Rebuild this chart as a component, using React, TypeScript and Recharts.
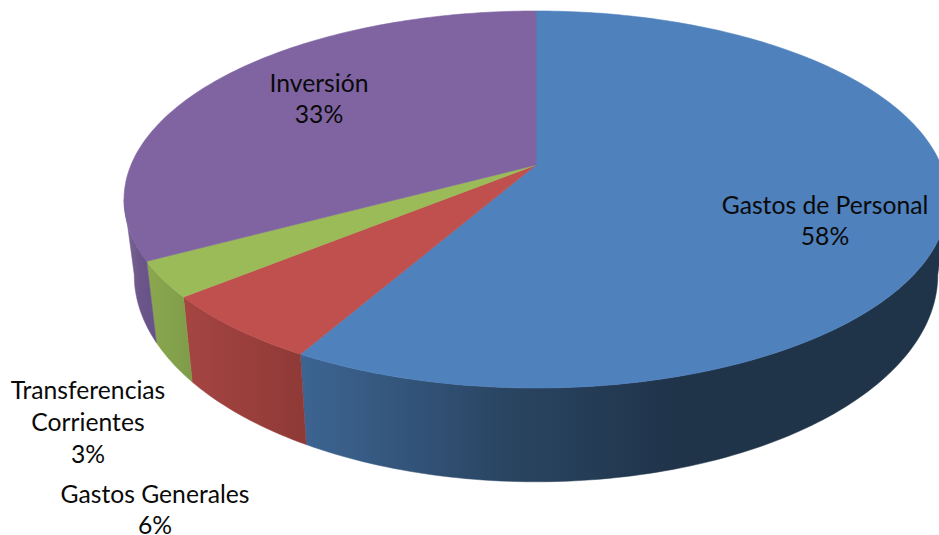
import { PieChart, Pie, Cell } from "recharts";

const categories = ["Gastos de Personal", "Gastos Generales", "Transferencias Corrientes", "Inversión"];
const shares = [58.13, 5.82, 3.05, 33];
const labelLines = [["Gastos de Personal"], ["Gastos Generales"], ["Transferencias", "Corrientes"], ["Inversión"]];

const topColors = ["#4f81bd", "#bf504d", "#9bbb59", "#8064a2"];
const wallStops = [
  ["#3d6593", "#2a4562", "#1f3349"],
  ["#a54542", "#9a3f3c", "#8e3a37"],
  ["#8ba850", "#85a24c", "#7f9b4a"],
  ["#7b6898", "#6c5689", "#66518a"],
];
const wallBands = [
  [300, 939],
  [185, 306],
  [146, 193],
  [124, 155],
];
const labelAnchors = [
  { x: 825, y: 213.5 },
  { x: 155, y: 503 },
  { x: 88, y: 399 },
  { x: 319, y: 91.5 },
];

const data = categories.map((name, i) => ({ name, value: shares[i] }));

// tilted disc: the flat pie angle is pushed through a perspective projection
const TILT = 0.183;
const top = { b: 405, a: 182.2, yc: 165 };
const rim = { b: 395, a: 200, yc: 237 };
// where the disc edge turns away from the viewer
const WALL_START = 100.5;
const WALL_END = 259.5;

function project(cx: number, deg: number, p: { b: number; a: number; yc: number }) {
  const r = (deg * Math.PI) / 180;
  const u = Math.sin(r);
  const v = Math.cos(r);
  const d = 1 + TILT * v;
  return [cx + (p.b * u) / d, p.yc - (p.a * v) / d];
}

function arc(cx: number, from: number, to: number, p: { b: number; a: number; yc: number }) {
  const pts: number[][] = [];
  const n = Math.max(2, Math.ceil(Math.abs(to - from)));
  for (let i = 0; i <= n; i++) pts.push(project(cx, from + ((to - from) * i) / n, p));
  return pts;
}

const toPath = (pts: number[][]) => pts.map((q, i) => `${i ? "L" : "M"}${q[0].toFixed(2)} ${q[1].toFixed(2)}`).join(" ");

const DiscSlice = (props: any) => {
  const { cx, cy, startAngle, endAngle, fill } = props;
  const name = props.payload?.name ?? props.name;
  const idx = categories.indexOf(name);
  const from = 90 - startAngle;
  const to = 90 - endAngle;
  const wallFrom = Math.max(from, WALL_START);
  const wallTo = Math.min(to, WALL_END);
  const band = wallBands[idx];
  const hasWall = wallTo > wallFrom;
  const scale = { ...top, yc: cy };
  const wall = hasWall
    ? toPath([...arc(cx, wallFrom, wallTo, scale), ...arc(cx, wallTo, wallFrom, rim)]) + " Z"
    : "";
  return (
    <g>
      <defs>
        <linearGradient id={`wall${idx}`} gradientUnits="userSpaceOnUse" x1={band[0]} y1={0} x2={band[1]} y2={0}>
          <stop offset="0%" stopColor={wallStops[idx][0]} />
          <stop offset={idx === 0 ? "32%" : "50%"} stopColor={wallStops[idx][1]} />
          <stop offset={idx === 0 ? "60%" : "100%"} stopColor={wallStops[idx][2]} />
        </linearGradient>
      </defs>
      {hasWall && <path d={wall} fill={`url(#wall${idx})`} stroke={`url(#wall${idx})`} strokeWidth={0.5} />}
      <path
        d={`M${cx} ${cy} ${toPath(arc(cx, from, to, scale)).replace("M", "L")} Z`}
        fill={fill}
        stroke={fill}
        strokeWidth={0.6}
      />
    </g>
  );
};

const renderLabel = (props: any) => {
  const i = props.index;
  const at = labelAnchors[i];
  const lines = [...labelLines[i], `${Math.round(shares[i])}%`];
  return (
    <text
      key={categories[i]}
      x={at.x}
      y={at.y}
      textAnchor="middle"
      fontFamily="Lato, 'Open Sans', sans-serif"
      fontSize={24.7}
      fill="#0a0a0a"
    >
      {lines.map((line, k) => (
        <tspan key={k} x={at.x} dy={k ? (lines.length > 2 ? 32 : 31) : 0}>
          {line}
        </tspan>
      ))}
    </text>
  );
};

export default function App() {
  return (
    <div style={{ position: "absolute", left: 0, top: 0, width: 939, height: 535, background: "#fff", overflow: "hidden" }}>
      <PieChart width={939} height={535} margin={{ top: 0, right: 0, bottom: 0, left: 0 }}>
        <Pie
          data={data}
          dataKey="value"
          nameKey="name"
          cx={536}
          cy={165}
          innerRadius={0}
          outerRadius={405}
          startAngle={90}
          endAngle={-270}
          stroke="none"
          shape={DiscSlice}
          label={renderLabel}
          labelLine={false}
          isAnimationActive={false}
        >
          {data.map((d, i) => (
            <Cell key={d.name} fill={topColors[i]} />
          ))}
        </Pie>
      </PieChart>
    </div>
  );
}
